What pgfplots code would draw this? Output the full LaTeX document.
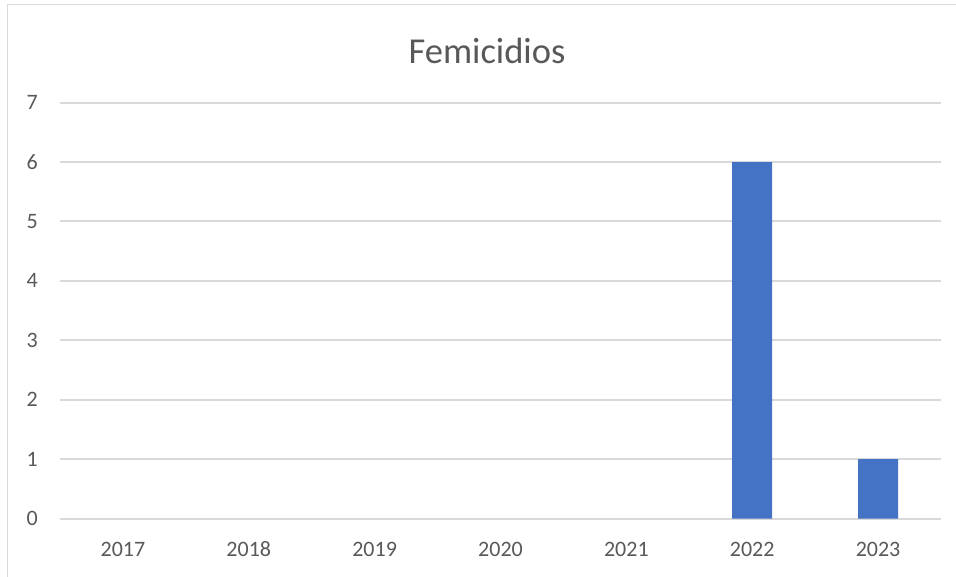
\documentclass[border=0pt]{standalone}
\usepackage{fontspec}
\setmainfont{Carlito}
\usepackage{pgfplots}
\pgfplotsset{compat=1.18}
\definecolor{barblue}{RGB}{68,114,196}
\definecolor{gridgray}{RGB}{217,217,217}
\definecolor{txtgray}{RGB}{89,89,89}
\begin{document}
\begin{tikzpicture}[x=1pt,y=1pt]
\useasboundingbox (0,0) rectangle (956,577);
\fill[white] (0,0) rectangle (956,577);
\draw[line width=1.5pt, gridgray] (7.5,-2) -- (7.5,572.5) -- (958,572.5);
\begin{axis}[
  at={(60pt,20pt)}, anchor=below south west,
  scale only axis, width=881pt, height=416pt,
  ymin=0, ymax=7, ytick={0,...,7},
  xmin=-0.5, xmax=6.5, xtick={0,...,6},
  xticklabels={2017,2018,2019,2020,2021,2022,2023},
  ybar, bar width=40pt,
  axis line style={draw=none},
  major tick length=0pt,
  ymajorgrids, grid style={gridgray, line width=2pt},
  tick label style={font=\fontsize{22}{26}\selectfont, text=txtgray, inner sep=0pt},
  yticklabel style={anchor=east, xshift=-22pt},
  xticklabel style={anchor=north, yshift=-23pt},
  /pgf/number format/assume math mode=true,
  clip=false,
]
\addplot[fill=barblue, draw=none, y filter/.expression={y==0 ? nan : y}] coordinates {(0,0) (1,0) (2,0) (3,0) (4,0) (5,6) (6,1)};
\end{axis}
\node[anchor=base, font=\fontsize{36.5}{42}\selectfont, text=txtgray, inner sep=0pt] at (487,513) {Femicidios};
\end{tikzpicture}
\end{document}
